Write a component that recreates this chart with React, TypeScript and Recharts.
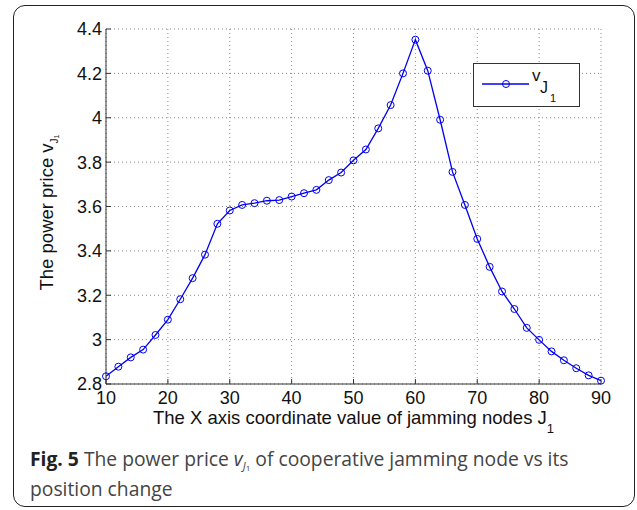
import React from 'react';
import { LineChart, Line, XAxis, YAxis, CartesianGrid } from 'recharts';

// x coordinate of jamming node J1
const positions = [10, 12, 14, 16, 18, 20, 22, 24, 26, 28, 30, 32, 34, 36, 38, 40, 42, 44, 46, 48, 50,
    52, 54, 56, 58, 60, 62, 64, 66, 68, 70, 72, 74, 76, 78, 80, 82, 84, 86, 88, 90];

// power price v_J1
const powerPrice = [2.835, 2.878, 2.92, 2.955, 3.021, 3.09, 3.182, 3.277, 3.383, 3.522, 3.582,
    3.607, 3.615, 3.626, 3.629, 3.645, 3.66, 3.675, 3.719, 3.753, 3.808,
    3.857, 3.952, 4.057, 4.2, 4.352, 4.212, 3.991, 3.756, 3.607, 3.454,
    3.328, 3.217, 3.138, 3.053, 2.999, 2.947, 2.907, 2.871, 2.839, 2.815];

const xTicks = [10, 20, 30, 40, 50, 60, 70, 80, 90];
const yTicks = [2.8, 3, 3.2, 3.4, 3.6, 3.8, 4, 4.2, 4.4];

const LINE_BLUE = '#0000f0';
const AXIS_FONT = '"Liberation Sans", Arial, sans-serif';

const chartData = positions.map((x, i) => ({ x, v: powerPrice[i] }));

const fmt = (v: number) => String(Number(v.toFixed(1)));

function XLabel(props: any) {
    const vb = props.viewBox || {};
    return (
        <text x={vb.x + vb.width / 2} y={vb.y + 40} textAnchor="middle"
            fontFamily={AXIS_FONT} fontSize={18.5} fill="#111">
            The X axis coordinate value of jamming nodes J
            <tspan dy={9} fontSize={13}>1</tspan>
        </text>
    );
}

function YLabel(props: any) {
    const vb = props.viewBox || {};
    const x = vb.x + 7;
    const y = vb.y + vb.height / 2 + 6;
    return (
        <text x={x} y={y} transform={`rotate(-90, ${x}, ${y})`} textAnchor="middle"
            fontFamily={AXIS_FONT} fontSize={18.5} fill="#111">
            The power price v
            <tspan dy={5} fontSize={10}>J</tspan>
            <tspan dy={1} fontSize={7}>1</tspan>
        </text>
    );
}

function LegendBox() {
    return (
        <div style={{
            position: 'absolute', left: 473, top: 63, width: 107, height: 44,
            boxSizing: 'border-box', border: '1.5px solid #333', background: '#fff'
        }}>
            <svg width={104} height={41} style={{ display: 'block' }}>
                <line x1={8} y1={20} x2={55} y2={20} stroke={LINE_BLUE} strokeWidth={1.3} />
                <circle cx={32} cy={20} r={3.5} fill="none" stroke={LINE_BLUE} strokeWidth={1} />
                <text x={58} y={17} fontFamily={AXIS_FONT} fontSize={17} fill="#111">v</text>
                <text x={66} y={29} fontFamily={AXIS_FONT} fontSize={16} fill="#111">J</text>
                <text x={76} y={38} fontFamily={AXIS_FONT} fontSize={11} fill="#111">1</text>
            </svg>
        </div>
    );
}

export default function App() {
    return (
        <div style={{ position: 'absolute', left: 0, top: 0, width: 637, height: 510, background: '#fff', overflow: 'hidden' }}>
            {/* figure frame */}
            <div style={{
                position: 'absolute', left: 13, top: 5, width: 622, height: 502,
                boxSizing: 'border-box', border: '1.5px solid #222', borderRadius: 12
            }} />

            <div style={{ position: 'absolute', left: 0, top: 0 }}>
                <LineChart width={637} height={445} data={chartData}
                    margin={{ top: 29, right: 36, bottom: 31, left: 46 }}>
                    <CartesianGrid stroke="#888" strokeDasharray="1 3" strokeWidth={1} />
                    <XAxis dataKey="x" type="number" domain={[10, 90]} ticks={xTicks}
                        height={30} stroke="#333" tickSize={-5} tickMargin={12}
                        tick={{ fontFamily: AXIS_FONT, fontSize: 18, fill: '#111' }}
                        label={<XLabel />} />
                    <XAxis xAxisId="top" orientation="top" dataKey="x" type="number" domain={[10, 90]}
                        ticks={xTicks} height={0} stroke="#333" tickSize={-5} tickFormatter={() => ''} />
                    <YAxis type="number" domain={[2.8, 4.4]} ticks={yTicks} width={60}
                        stroke="#333" tickSize={-5} tickMargin={9} tickFormatter={fmt}
                        tick={{ fontFamily: AXIS_FONT, fontSize: 18, fill: '#111' }}
                        label={<YLabel />} />
                    <YAxis yAxisId="right" orientation="right" type="number" domain={[2.8, 4.4]}
                        ticks={yTicks} width={0} stroke="#333" tickSize={-5} tickFormatter={() => ''} />
                    <Line dataKey="v" name="v_J1" stroke={LINE_BLUE} strokeWidth={1.3}
                        dot={{ r: 3.5, stroke: LINE_BLUE, strokeWidth: 1, fill: 'none' }}
                        activeDot={false} isAnimationActive={false} />
                </LineChart>
            </div>

            <LegendBox />

            {/* caption */}
            <div style={{
                position: 'absolute', left: 30, top: 446, width: 590,
                fontFamily: '"Open Sans", "Noto Sans", sans-serif', fontSize: 19.3, lineHeight: '26px', color: '#444'
            }}>
                <b style={{ color: '#222' }}>Fig. 5</b> The power price <i>v</i>
                <span style={{ position: 'relative', top: 4, fontSize: 11, fontStyle: 'italic' }}>J
                    <span style={{ position: 'relative', top: 1, fontSize: 8, fontStyle: 'normal' }}>1</span>
                </span>{' '}
                of cooperative jamming node vs its<br />position change
            </div>
        </div>
    );
}
